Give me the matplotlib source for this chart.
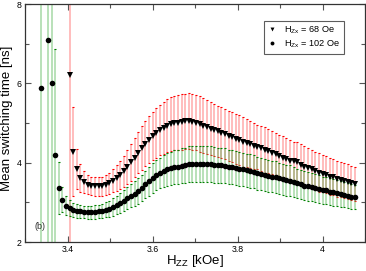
import numpy as np
import matplotlib
matplotlib.use("Agg")
import matplotlib.pyplot as plt
from matplotlib.ticker import MultipleLocator, FixedLocator

plt.rcParams['font.family'] = ['Liberation Sans', 'DejaVu Sans']
plt.rcParams['mathtext.default'] = 'regular'

# H_ZZ field grid [kOe]
hzz = [3.3370, 3.3455, 3.3540, 3.3625, 3.3710, 3.3795, 3.3880, 3.3965, 3.4050, 3.4135,
       3.4220, 3.4305, 3.4390, 3.4475, 3.4560, 3.4645, 3.4730, 3.4815, 3.4900, 3.4985,
       3.5070, 3.5155, 3.5240, 3.5325, 3.5410, 3.5495, 3.5580, 3.5665, 3.5750, 3.5835,
       3.5920, 3.6005, 3.6090, 3.6175, 3.6260, 3.6345, 3.6430, 3.6515, 3.6600, 3.6685,
       3.6770, 3.6855, 3.6940, 3.7025, 3.7110, 3.7195, 3.7280, 3.7365, 3.7450, 3.7535,
       3.7620, 3.7705, 3.7790, 3.7875, 3.7960, 3.8045, 3.8130, 3.8215, 3.8300, 3.8385,
       3.8470, 3.8555, 3.8640, 3.8725, 3.8810, 3.8895, 3.8980, 3.9065, 3.9150, 3.9235,
       3.9320, 3.9405, 3.9490, 3.9575, 3.9660, 3.9745, 3.9830, 3.9915, 4.0000, 4.0085,
       4.0170, 4.0255, 4.0340, 4.0425, 4.0510, 4.0595, 4.0680, 4.0765]

# H_Zx = 68 Oe (starts at hzz[8])
t_68 = [6.22, 4.28, 3.84, 3.62, 3.51, 3.44, 3.41, 3.40, 3.40, 3.41,
        3.44, 3.48, 3.54, 3.61, 3.69, 3.78, 3.89, 4.01, 4.13, 4.25,
        4.37, 4.48, 4.58, 4.67, 4.75, 4.82, 4.88, 4.93, 4.97, 5.00,
        5.01, 5.02, 5.04, 5.05, 5.03, 5.01, 4.97, 4.93, 4.89, 4.86,
        4.83, 4.79, 4.76, 4.72, 4.68, 4.64, 4.60, 4.56, 4.52, 4.49,
        4.46, 4.43, 4.39, 4.36, 4.32, 4.29, 4.25, 4.21, 4.18, 4.13,
        4.09, 4.05, 4.03, 4.01, 3.94, 3.90, 3.86, 3.84, 3.78, 3.75,
        3.72, 3.70, 3.65, 3.63, 3.59, 3.57, 3.54, 3.52, 3.48, 3.46]
err_68 = [20.0, 1.12, 0.50, 0.35, 0.28, 0.24, 0.23, 0.23, 0.23, 0.24,
          0.25, 0.27, 0.29, 0.32, 0.35, 0.39, 0.42, 0.46, 0.49, 0.52,
          0.55, 0.57, 0.59, 0.60, 0.62, 0.63, 0.65, 0.67, 0.68, 0.69,
          0.70, 0.70, 0.70, 0.70, 0.70, 0.70, 0.70, 0.69, 0.68, 0.67,
          0.66, 0.65, 0.64, 0.63, 0.63, 0.63, 0.63, 0.63, 0.62, 0.61,
          0.60, 0.58, 0.56, 0.56, 0.58, 0.56, 0.54, 0.53, 0.53, 0.54,
          0.54, 0.52, 0.50, 0.51, 0.52, 0.51, 0.50, 0.49, 0.48, 0.49,
          0.47, 0.46, 0.46, 0.45, 0.45, 0.44, 0.44, 0.44, 0.43, 0.43]

# H_Zx = 102 Oe (full grid, one missing point)
t_102 = [5.89, None, 7.08, 6.02, 4.20, 3.36, 3.07, 2.92, 2.85, 2.81,
         2.78, 2.77, 2.76, 2.75, 2.75, 2.76, 2.77, 2.78, 2.81, 2.84,
         2.88, 2.93, 2.98, 3.04, 3.10, 3.16, 3.22, 3.29, 3.37, 3.45,
         3.53, 3.61, 3.68, 3.74, 3.79, 3.83, 3.86, 3.88, 3.90, 3.92,
         3.94, 3.96, 3.97, 3.97, 3.97, 3.97, 3.97, 3.96, 3.95, 3.94,
         3.93, 3.92, 3.90, 3.88, 3.86, 3.84, 3.83, 3.81, 3.79, 3.77,
         3.73, 3.71, 3.69, 3.66, 3.65, 3.63, 3.61, 3.58, 3.56, 3.55,
         3.52, 3.48, 3.45, 3.42, 3.40, 3.39, 3.36, 3.34, 3.31, 3.30,
         3.27, 3.25, 3.23, 3.21, 3.19, 3.17, 3.14, 3.13]
err_102 = [20.0, None, 20.0, 20.0, 2.67, 0.65, 0.32, 0.24, 0.20, 0.18,
           0.17, 0.17, 0.16, 0.16, 0.16, 0.17, 0.17, 0.18, 0.19, 0.20,
           0.22, 0.23, 0.25, 0.26, 0.28, 0.29, 0.31, 0.32, 0.33, 0.35,
           0.36, 0.37, 0.38, 0.39, 0.40, 0.41, 0.42, 0.43, 0.43, 0.44,
           0.44, 0.45, 0.45, 0.45, 0.46, 0.45, 0.45, 0.45, 0.45, 0.44,
           0.44, 0.44, 0.43, 0.43, 0.43, 0.42, 0.42, 0.42, 0.42, 0.42,
           0.41, 0.41, 0.41, 0.40, 0.40, 0.40, 0.39, 0.39, 0.39, 0.38,
           0.38, 0.37, 0.37, 0.36, 0.36, 0.36, 0.35, 0.35, 0.34, 0.34,
           0.34, 0.33, 0.33, 0.33, 0.32, 0.32, 0.31, 0.31]

labels = [r'H$_{Zx}$ = 68 Oe', r'H$_{Zx}$ = 102 Oe']

x_all = np.array(hzz)
x68 = x_all[8:]
y68 = np.array(t_68, dtype=float)
e68 = np.array(err_68, dtype=float)
y102 = np.array([np.nan if v is None else v for v in t_102], dtype=float)
e102 = np.array([np.nan if v is None else v for v in err_102], dtype=float)
m = ~np.isnan(y102)

fig = plt.figure(figsize=(3.66, 2.71), dpi=100)
ax = fig.add_axes([25/366, 29/271, 340/366, 238/271])

def style_err(eb, body, tip):
    _, caps, bars = eb
    for b in bars:
        b.set_color(body)
        b.set_linewidth(1.1)
    for c in caps:
        c.set_color(tip)
        c.set_markeredgewidth(0.8)

eb1 = ax.errorbar(x68, y68, yerr=e68, fmt='none', ecolor='red',
                  capsize=0.6, zorder=2)
style_err(eb1, (1.0, 0.4, 0.4, 0.55), (1.0, 0.2, 0.2, 0.85))
eb2 = ax.errorbar(x_all[m], y102[m], yerr=e102[m], fmt='none', ecolor='green',
                  capsize=0.6, zorder=2)
style_err(eb2, (0.3, 0.7, 0.3, 0.5), (0.15, 0.6, 0.15, 0.85))

ax.plot(x68, y68, color='black', lw=0, marker='v', ms=4.0, mew=0,
        label=labels[0], zorder=4)
ax.plot(x_all[m], y102[m], color='black', lw=0, marker='o', ms=4.0, mew=0,
        label=labels[1], zorder=4)

ax.set_xlim(3.3, 4.1)
ax.set_ylim(2, 8)
ax.xaxis.set_major_locator(FixedLocator([3.4, 3.6, 3.8, 4.0]))
ax.xaxis.set_minor_locator(FixedLocator([3.3, 3.5, 3.7, 3.9, 4.1]))
ax.yaxis.set_major_locator(MultipleLocator(2))
ax.yaxis.set_minor_locator(MultipleLocator(1))
ax.set_xticklabels(['3.4', '3.6', '3.8', '4'])
ax.tick_params(which='both', direction='in', top=True, right=True,
               labelsize=6.3, color='#555555', width=0.8, pad=2.5)
ax.tick_params(which='major', length=4.5)
ax.tick_params(which='minor', length=3)
for s in ax.spines.values():
    s.set_linewidth(0.9)
    s.set_color('#333333')

ax.set_xlabel(r'H$_{ZZ}$ [kOe]', fontsize=9.5)
ax.xaxis.set_label_coords(0.5, -0.048)
ax.set_ylabel('Mean switching time [ns]', fontsize=9.5)
ax.yaxis.set_label_coords(-0.052, 0.52)
ax.yaxis.label.set_va('center')
ax.text(3.3235, 2.39, '(b)', fontsize=6.5, color='#333333', ha='left', va='center')

leg = ax.legend(loc='upper right', bbox_to_anchor=(0.938, 0.929), fontsize=6.6,
                frameon=True, fancybox=False, edgecolor='#333333',
                handlelength=0.9, handletextpad=0.9, borderpad=0.4,
                borderaxespad=0, labelspacing=0.25, markerscale=0.7)
leg.get_frame().set_linewidth(0.8)

fig.savefig('out.png', dpi=100)
